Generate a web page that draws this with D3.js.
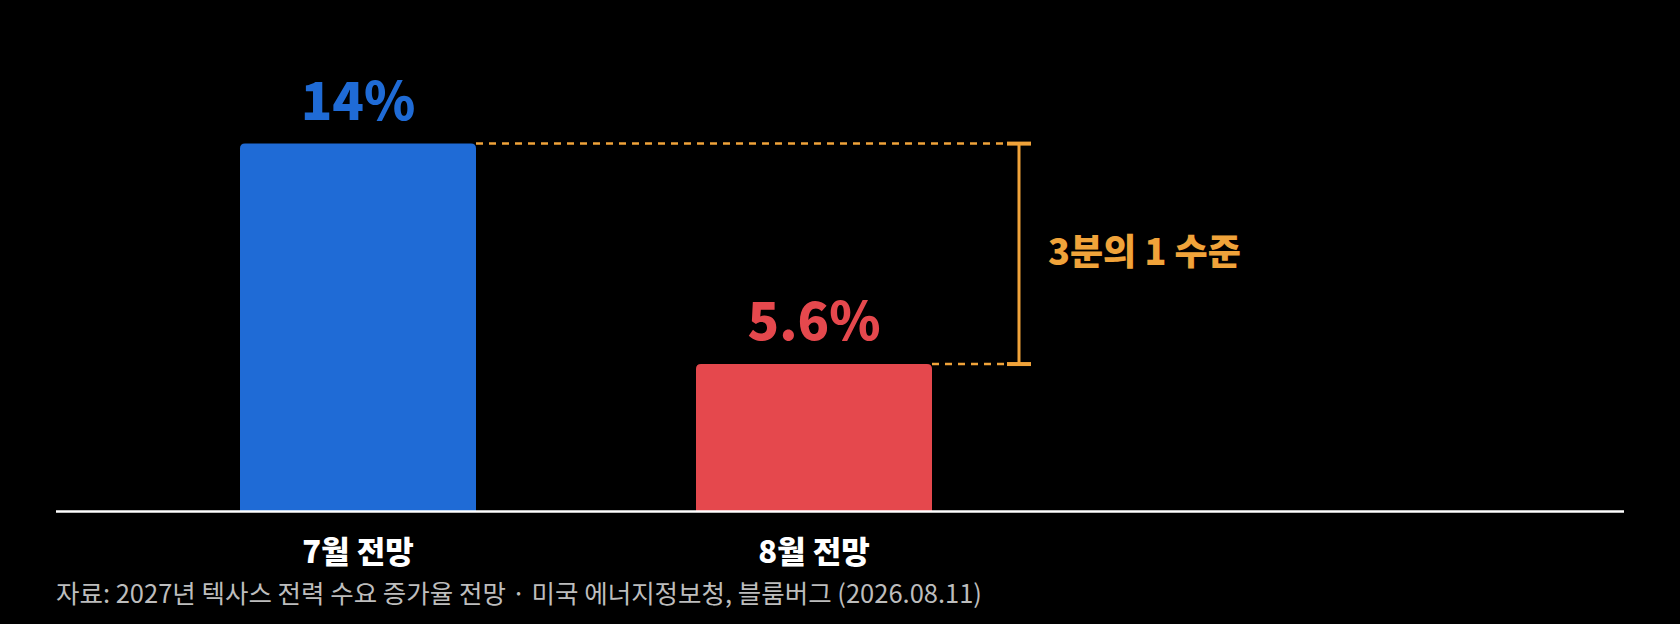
<!DOCTYPE html><html><head><meta charset="utf-8">
<script src="https://cdn.jsdelivr.net/npm/d3@7"></script>
<style>body{margin:0;background:#000}svg{display:block}text{font-family:"Noto Sans CJK KR","Noto Sans",sans-serif}</style>
</head><body><svg id="c" width="1680" height="624"></svg>
<script>
const categories=["7월 전망","8월 전망"];
const values=[14,5.6];
const valueLabels=["14%","5.6%"];
const colors=["#1f6bd6","#e5484d"];
const annotation="3분의 1 수준";
const source="자료: 2027년 텍사스 전력 수요 증가율 전망 · 미국 에너지정보청, 블룸버그 (2026.08.11)";
const svg=d3.select("#c");
const base=511;
const y=d3.scaleLinear().domain([0,14]).range([base,143.6]);
const x=d3.scalePoint().domain(categories).range([358,814]);
const bw=236;
const cx=c=>x(c);
const orange="#f0a33a";
svg.selectAll("path.bar").data(categories).join("path").attr("fill",(d,i)=>colors[i])
 .attr("d",(d,i)=>{const x0=cx(d)-bw/2,x1=x0+bw,t=y(values[i]),r=5;return `M${x0},${base}V${t+r}Q${x0},${t} ${x0+r},${t}H${x1-r}Q${x1},${t} ${x1},${t+r}V${base}Z`;});
svg.selectAll("text.val").data(categories).join("text").attr("x",cx).attr("y",(d,i)=>y(values[i])-24)
 .attr("text-anchor","middle").attr("fill",(d,i)=>colors[i]).attr("font-size",52).attr("font-weight",800).text((d,i)=>valueLabels[i]);
svg.append("line").attr("x1",56).attr("x2",1624).attr("y1",base+0.5).attr("y2",base+0.5).attr("stroke","#fff").attr("stroke-width",2.5);
svg.selectAll("text.cat").data(categories).join("text").attr("x",cx).attr("y",563).attr("text-anchor","middle")
 .attr("fill","#fff").attr("font-size",31).attr("font-weight",800).text(d=>d);
const bx=1019;
categories.forEach((d,i)=>{svg.append("line").attr("x1",cx(d)+bw/2).attr("x2",bx).attr("y1",y(values[i])).attr("y2",y(values[i]))
 .attr("stroke",orange).attr("stroke-width",2.5).attr("stroke-dasharray","7,6");
 svg.append("line").attr("x1",bx-12).attr("x2",bx+12).attr("y1",y(values[i])).attr("y2",y(values[i])).attr("stroke",orange).attr("stroke-width",4);});
svg.append("line").attr("x1",bx).attr("x2",bx).attr("y1",y(values[0])).attr("y2",y(values[1])).attr("stroke",orange).attr("stroke-width",3);
svg.append("text").attr("x",1048).attr("y",(y(values[0])+y(values[1]))/2+11).attr("fill",orange).attr("font-size",36).attr("font-weight",800).text(annotation);
svg.append("text").attr("x",56).attr("y",603).attr("fill","#bdbdbd").attr("font-size",25.5).text(source);
</script></body></html>
